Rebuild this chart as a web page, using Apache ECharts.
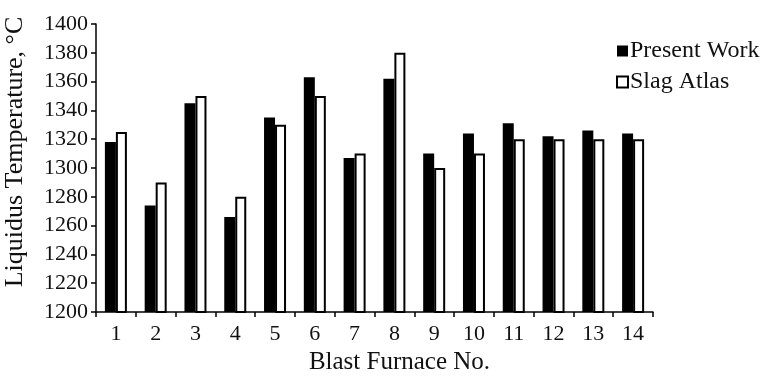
<!DOCTYPE html>
<html>
<head>
<meta charset="utf-8">
<script src="https://cdn.jsdelivr.net/npm/echarts@6/dist/echarts.min.js"></script>
<style>
    html, body { margin: 0; padding: 0; background: #fff; }
    #chart { width: 767px; height: 383px; }
</style>
</head>
<body>
<div id="chart"></div>
<script>
const furnaces = ['1', '2', '3', '4', '5', '6', '7', '8', '9', '10', '11', '12', '13', '14'];
const presentWork = [1318, 1274, 1345, 1266, 1335, 1363, 1307, 1362, 1310, 1324, 1331, 1322, 1326, 1324];
const slagAtlas = [1325, 1290, 1350, 1280, 1330, 1350, 1310, 1380, 1300, 1310, 1320, 1320, 1320, 1320];

const serif = '"Liberation Serif", "DejaVu Serif", serif';

const myChart = echarts.init(document.getElementById('chart'));
myChart.setOption({
    animation: false,
    textStyle: { fontFamily: serif, color: '#111' },
    grid: { left: 96, right: 114, top: 24, bottom: 71, outerBoundsMode: 'none' },
    legend: {
        left: 611,
        top: 34,
        orient: 'vertical',
        itemWidth: 11,
        itemHeight: 11,
        itemGap: 7,
        textStyle: { fontFamily: serif, fontSize: 24, color: '#111', padding: [0, 0, 0, -3] },
        data: [
            { name: 'Present Work', icon: 'rect' },
            { name: 'Slag Atlas', icon: 'rect' }
        ]
    },
    xAxis: {
        type: 'category',
        data: furnaces,
        name: 'Blast Furnace No.',
        nameLocation: 'middle',
        nameGap: 33,
        nameTextStyle: { fontFamily: serif, fontSize: 25, color: '#111', padding: [0, 0, 0, 50] },
        axisLine: { lineStyle: { color: '#000', width: 1.5 } },
        axisTick: { show: true, length: 5, lineStyle: { color: '#000', width: 1.5 } },
        axisLabel: { fontFamily: serif, fontSize: 22, color: '#111', margin: 11 }
    },
    yAxis: {
        type: 'value',
        min: 1200,
        max: 1400,
        interval: 20,
        name: 'Liquidus Temperature, °C',
        nameLocation: 'middle',
        nameRotate: 90,
        nameGap: 68,
        nameTextStyle: { fontFamily: serif, fontSize: 26, color: '#111', padding: [0, 0, 0, 32] },
        splitLine: { show: false },
        axisLine: { show: true, lineStyle: { color: '#000', width: 1.5 } },
        axisTick: { show: true, length: 5, lineStyle: { color: '#000', width: 1.5 } },
        axisLabel: { fontFamily: serif, fontSize: 22, color: '#111', margin: 8, formatter: v => String(v) }
    },
    series: [
        {
            name: 'Present Work',
            type: 'bar',
            barWidth: 11,
            barGap: '0%',
            itemStyle: { color: '#000' },
            data: presentWork
        },
        {
            name: 'Slag Atlas',
            type: 'bar',
            barWidth: 11,
            itemStyle: { color: '#fff', borderColor: '#000', borderWidth: 2 },
            data: slagAtlas
        }
    ]
});
</script>
</body>
</html>
